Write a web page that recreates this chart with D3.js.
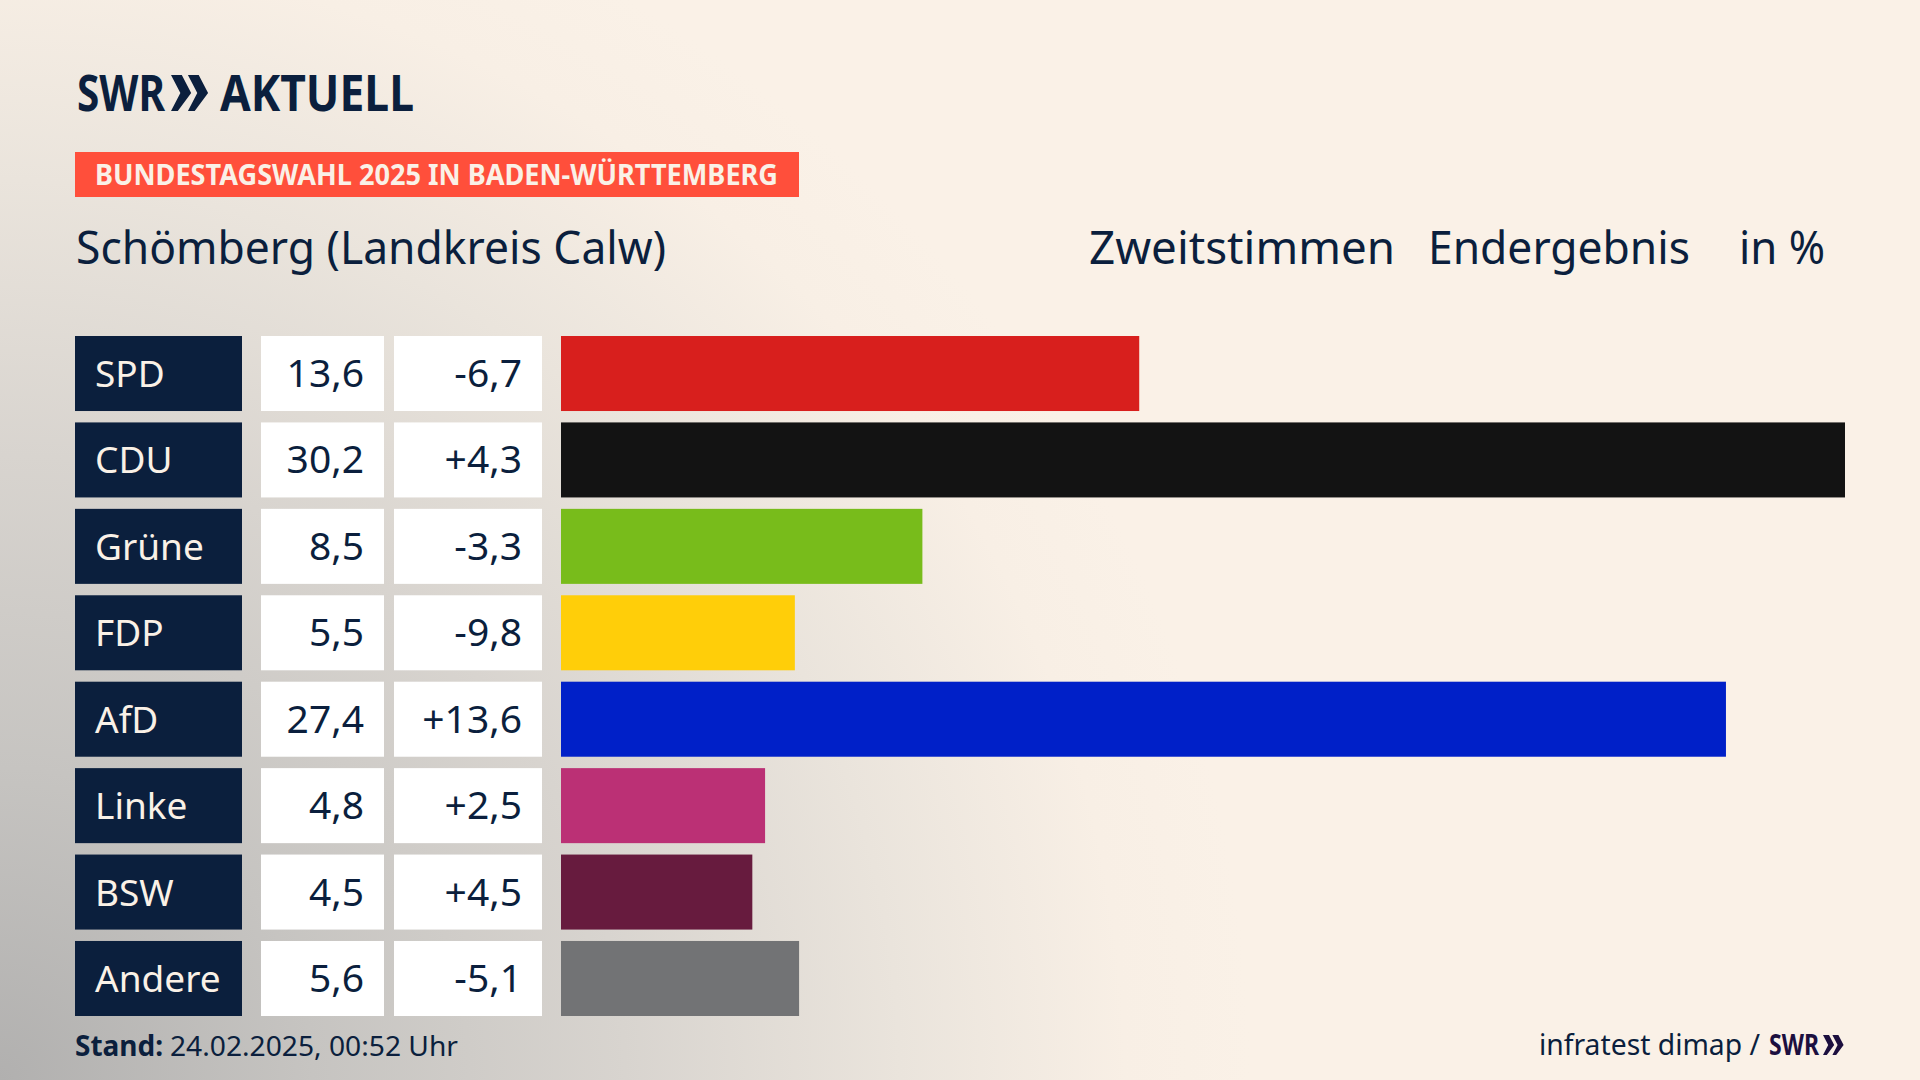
<!DOCTYPE html>
<html>
<head>
<meta charset="utf-8">
<script src="https://cdn.jsdelivr.net/npm/d3@7"></script>
<style>
  html, body { margin: 0; padding: 0; background: #faf1e7; }
  svg { display: block; }
  text { font-family: "Noto Sans", sans-serif; }
</style>
</head>
<body>
<div id="chart"></div>
<script>
'use strict';
const parties = ['SPD', 'CDU', 'Grüne', 'FDP', 'AfD', 'Linke', 'BSW', 'Andere'];
const shares  = [13.6, 30.2, 8.5, 5.5, 27.4, 4.8, 4.5, 5.6];
const changes = [-6.7, 4.3, -3.3, -9.8, 13.6, 2.5, 4.5, -5.1];
const colors  = ['#d81f1d', '#131313', '#78bc1b', '#ffce09', '#0020c8', '#bb3075', '#671b3e', '#727375'];

const width = 1920, height = 1080;
const navy = '#0b1f3d';

const svg = d3.select('#chart').append('svg')
  .attr('width', width)
  .attr('height', height);

// background, grey haze from the bottom left corner
const grad = svg.append('defs').append('radialGradient')
  .attr('id', 'haze')
  .attr('gradientUnits', 'userSpaceOnUse')
  .attr('cx', 0).attr('cy', height).attr('r', 1250);
[[0, '#b1b0af'], [0.25, '#c6c4c1'], [0.5, '#d8d4cf'], [0.72, '#eae4dc'], [0.9, '#f8efe5'], [1, '#faf1e7']]
  .forEach(function(s){
    grad.append('stop').attr('offset', s[0]).attr('stop-color', s[1]);
  });
svg.append('rect').attr('width', width).attr('height', height).attr('fill', 'url(#haze)');

function label(x, y, str, size, opts){
  opts = opts || {};
  let t = svg.append('text')
    .attr('x', x).attr('y', y)
    .attr('font-size', size)
    .attr('fill', opts.fill || navy)
    .attr('font-weight', opts.weight || 400)
    .attr('text-anchor', opts.anchor || 'start')
    .text(str);
  if(opts.len){
    t.attr('textLength', opts.len).attr('lengthAdjust', 'spacingAndGlyphs');
  }
  return t;
}

function chevrons(x, y, h, fill){
  // the two SWR arrows
  let w = h * 0.56, gap = h * 0.47, bar = h * 0.3;
  [0, gap].forEach(function(dx){
    let p = d3.path();
    p.moveTo(x + dx, y);
    p.lineTo(x + dx + bar, y);
    p.lineTo(x + dx + w, y + h / 2);
    p.lineTo(x + dx + bar - 4 * h / 36, y + h);
    p.lineTo(x + dx, y + h);
    p.lineTo(x + dx + w - bar, y + h / 2);
    p.closePath();
    svg.append('path').attr('d', p.toString()).attr('fill', fill);
  });
}

// logo
label(77, 111, 'SWR', 50, {weight: 700, len: 88});
chevrons(171, 75, 36, navy);
label(220, 111, 'AKTUELL', 50, {weight: 700, len: 194});

// headline block
svg.append('rect').attr('x', 75).attr('y', 152).attr('width', 724).attr('height', 45).attr('fill', '#ff4f3b');
label(95, 185, 'BUNDESTAGSWAHL 2025 IN BADEN-WÜRTTEMBERG', 28, {weight: 700, fill: '#faf1e7', len: 683});
label(76, 264, 'Schömberg (Landkreis Calw)', 45, {len: 590});
label(1089, 264, 'Zweitstimmen', 45, {len: 306});
label(1428, 264, 'Endergebnis', 45, {len: 262});
label(1739, 264, 'in %', 45, {len: 86});

// rows
const y = d3.scaleBand().domain(parties).range([336, 1016]).paddingInner(0.132);
const x = d3.scaleLinear().domain([0, d3.max(shares)]).range([561, 1845]);
const comma = function(v){ return v.toFixed(1).replace('.', ','); };
const signed = function(v){ return (v > 0 ? '+' : '') + comma(v); };

const rows = svg.selectAll('g.row').data(parties).enter().append('g')
  .attr('class', 'row')
  .attr('transform', function(d){ return 'translate(0,' + y(d) + ')'; });

const band = y.bandwidth();
rows.append('rect').attr('x', 75).attr('width', 167).attr('height', band).attr('fill', navy);
rows.append('rect').attr('x', 261).attr('width', 123).attr('height', band).attr('fill', '#fff');
rows.append('rect').attr('x', 394).attr('width', 148).attr('height', band).attr('fill', '#fff');
rows.append('rect')
  .attr('x', x(0))
  .attr('width', function(d, i){ return x(shares[i]) - x(0); })
  .attr('height', band)
  .attr('fill', function(d, i){ return colors[i]; });

rows.append('text').attr('x', 95).attr('y', 51).attr('font-size', 37).attr('fill', '#faf1e7')
  .text(function(d){ return d; });
rows.append('text').attr('x', 364).attr('y', 51).attr('font-size', 39).attr('fill', navy)
  .attr('text-anchor', 'end')
  .text(function(d, i){ return comma(shares[i]); });
rows.append('text').attr('x', 522).attr('y', 51).attr('font-size', 39).attr('fill', navy)
  .attr('text-anchor', 'end')
  .text(function(d, i){ return signed(changes[i]); });

// footer
label(75, 1056, 'Stand:', 28, {weight: 700, len: 88});
label(170, 1056, '24.02.2025, 00:52 Uhr', 28, {len: 288});
label(1539, 1055, 'infratest dimap /', 29, {len: 221});
label(1769, 1055, 'SWR', 28, {weight: 700, fill: '#1c0f3f', len: 50});
chevrons(1823, 1035, 20, '#1c0f3f');
</script>
</body>
</html>
